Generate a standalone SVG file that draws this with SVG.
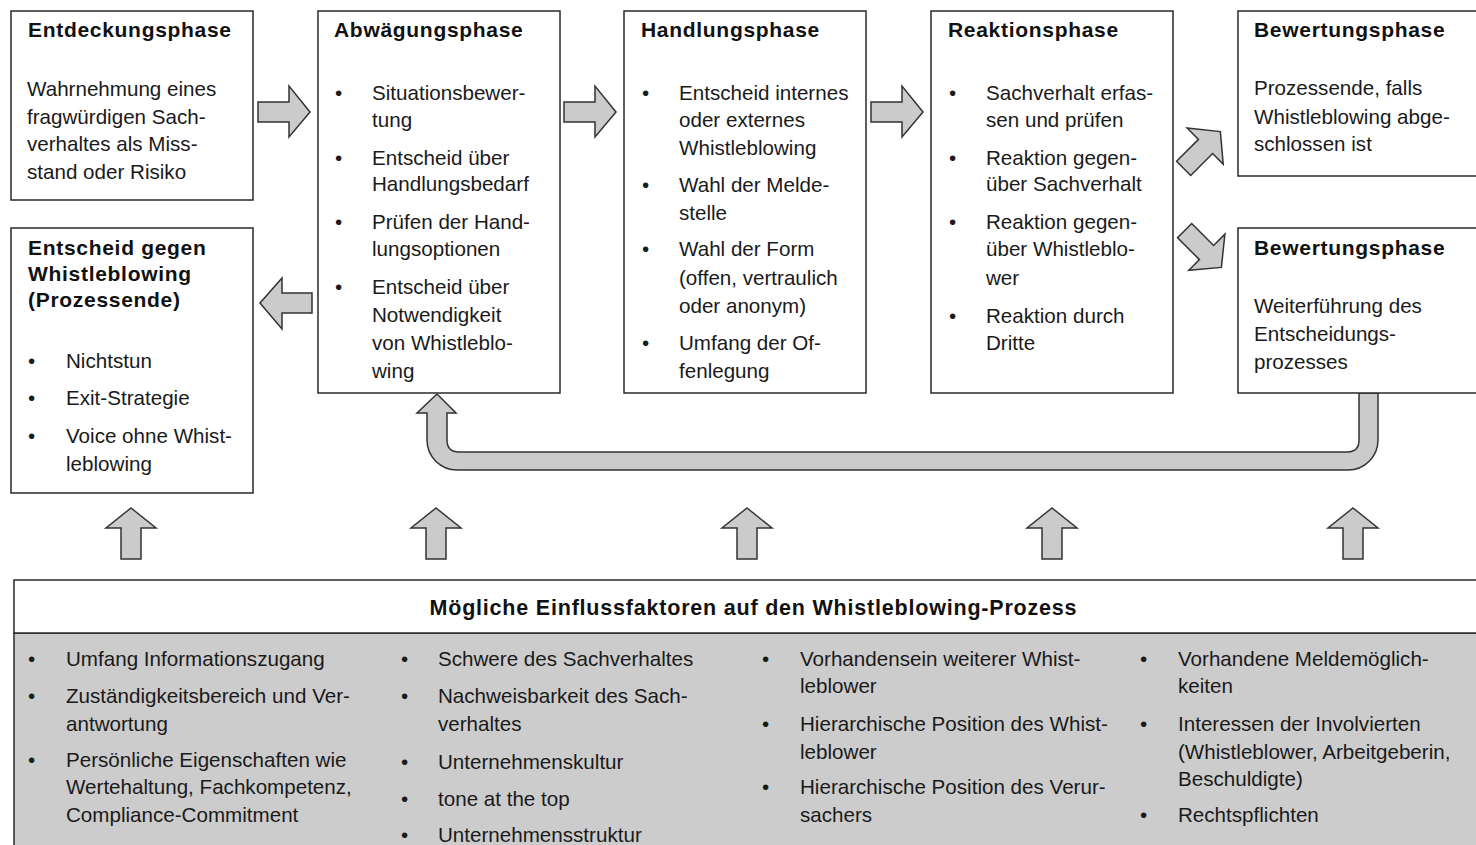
<svg xmlns="http://www.w3.org/2000/svg" xmlns:xlink="http://www.w3.org/1999/xlink" width="1476" height="845" viewBox="0 0 1476 845">
<style>
.box{fill:#fff;stroke:#2a2a2a;stroke-width:1.5}
.arr{fill:#cbcbcb;stroke:#333;stroke-width:1.5;stroke-linejoin:miter}
.h{font-family:"Liberation Sans",Arial,sans-serif;font-weight:bold;font-size:21px;letter-spacing:0.7px;fill:#111}
.t{font-family:"Liberation Sans",Arial,sans-serif;font-size:20.6px;fill:#1a1a1a}
.ttl{font-family:"Liberation Sans",Arial,sans-serif;font-weight:bold;font-size:21.5px;fill:#111}
</style>
<defs>
<path id="arrR" d="M0,-10 L31,-10 L31,-26 L52,0 L31,25 L31,10 L0,10 Z"/>
<path id="arrU" d="M0,0 L25,20 L10,20 L10,51 L-10,51 L-10,20 L-25,20 Z"/>
</defs>
<rect width="1476" height="845" fill="#fff"/>

<g id="connectors">
<use xlink:href="#arrR" class="arr" transform="translate(258,112)"/>
<use xlink:href="#arrR" class="arr" transform="translate(564,112)"/>
<use xlink:href="#arrR" class="arr" transform="translate(871,112)"/>
<path class="arr" d="M260,303 L282,278 L282,293 L312,293 L312,313 L282,313 L282,329 Z"/>
<use xlink:href="#arrR" class="arr" transform="translate(1202,150) rotate(-45) translate(-26,0)"/>
<use xlink:href="#arrR" class="arr" transform="translate(1203,249) rotate(45) translate(-26,0)"/>
<path class="arr" d="M437,394 L456,413 L447,413 L447,440 Q447,452 459,452 L1347,452 Q1359,452 1359,440 L1359,393 L1378,393 L1378,440 A30,30 0 0 1 1348,470 L457,470 A30,30 0 0 1 427,440 L427,413 L417,413 Z"/>
<use xlink:href="#arrU" class="arr" transform="translate(131,508)"/>
<use xlink:href="#arrU" class="arr" transform="translate(436,508)"/>
<use xlink:href="#arrU" class="arr" transform="translate(747,508)"/>
<use xlink:href="#arrU" class="arr" transform="translate(1052,508)"/>
<use xlink:href="#arrU" class="arr" transform="translate(1353,508)"/>
</g>

<g id="entdeckung">
<rect class="box" x="11" y="11" width="242" height="189"/>
<text class="h" x="28" y="37">Entdeckungsphase</text>
<text class="t" x="27" y="96">Wahrnehmung eines</text>
<text class="t" x="27" y="124">fragwürdigen Sach-</text>
<text class="t" x="27" y="151">verhaltes als Miss-</text>
<text class="t" x="27" y="179">stand oder Risiko</text>
</g>

<g id="abwaegung">
<rect class="box" x="318" y="11" width="242" height="382"/>
<text class="h" x="334" y="37">Abwägungsphase</text>
<g class="t">
<text x="335" y="100">•</text><text x="372" y="100">Situationsbewer-</text>
<text x="372" y="127">tung</text>
<text x="335" y="165">•</text><text x="372" y="165">Entscheid über</text>
<text x="372" y="191">Handlungsbedarf</text>
<text x="335" y="229">•</text><text x="372" y="229">Prüfen der Hand-</text>
<text x="372" y="256">lungsoptionen</text>
<text x="335" y="294">•</text><text x="372" y="294">Entscheid über</text>
<text x="372" y="322">Notwendigkeit</text>
<text x="372" y="350">von Whistleblo-</text>
<text x="372" y="378">wing</text>
</g>
</g>

<g id="handlung">
<rect class="box" x="624" y="11" width="242" height="382"/>
<text class="h" x="641" y="37">Handlungsphase</text>
<g class="t">
<text x="642" y="100">•</text><text x="679" y="100">Entscheid internes</text>
<text x="679" y="127">oder externes</text>
<text x="679" y="155">Whistleblowing</text>
<text x="642" y="192">•</text><text x="679" y="192">Wahl der Melde-</text>
<text x="679" y="220">stelle</text>
<text x="642" y="256">•</text><text x="679" y="256">Wahl der Form</text>
<text x="679" y="285">(offen, vertraulich</text>
<text x="679" y="313">oder anonym)</text>
<text x="642" y="350">•</text><text x="679" y="350">Umfang der Of-</text>
<text x="679" y="378">fenlegung</text>
</g>
</g>

<g id="reaktion">
<rect class="box" x="931" y="11" width="242" height="382"/>
<text class="h" x="948" y="37">Reaktionsphase</text>
<g class="t">
<text x="949" y="100">•</text><text x="986" y="100">Sachverhalt erfas-</text>
<text x="986" y="127">sen und prüfen</text>
<text x="949" y="165">•</text><text x="986" y="165">Reaktion gegen-</text>
<text x="986" y="191">über Sachverhalt</text>
<text x="949" y="229">•</text><text x="986" y="229">Reaktion gegen-</text>
<text x="986" y="256">über Whistleblo-</text>
<text x="986" y="285">wer</text>
<text x="949" y="323">•</text><text x="986" y="323">Reaktion durch</text>
<text x="986" y="350">Dritte</text>
</g>
</g>

<g id="bewertung1">
<rect class="box" x="1238" y="11" width="250" height="165"/>
<text class="h" x="1254" y="37">Bewertungsphase</text>
<text class="t" x="1254" y="95">Prozessende, falls</text>
<text class="t" x="1254" y="124">Whistleblowing abge-</text>
<text class="t" x="1254" y="151">schlossen ist</text>
</g>

<g id="bewertung2">
<rect class="box" x="1238" y="228" width="250" height="165"/>
<text class="h" x="1254" y="255">Bewertungsphase</text>
<text class="t" x="1254" y="313">Weiterführung des</text>
<text class="t" x="1254" y="341">Entscheidungs-</text>
<text class="t" x="1254" y="369">prozesses</text>
</g>

<g id="entscheid-gegen">
<rect class="box" x="11" y="228" width="242" height="265"/>
<text class="h" x="28" y="255">Entscheid gegen</text>
<text class="h" x="28" y="281">Whistleblowing</text>
<text class="h" x="28" y="307">(Prozessende)</text>
<g class="t">
<text x="28" y="368">•</text><text x="66" y="368">Nichtstun</text>
<text x="28" y="405">•</text><text x="66" y="405">Exit-Strategie</text>
<text x="28" y="443">•</text><text x="66" y="443">Voice ohne Whist-</text>
<text x="66" y="471">leblowing</text>
</g>
</g>

<g id="einflussfaktoren">
<rect x="14" y="633" width="1470" height="220" fill="#cccccc" stroke="#2a2a2a" stroke-width="1.5"/>
<rect class="box" x="14" y="580" width="1470" height="53"/>
<text class="ttl" x="753" y="615" text-anchor="middle" textLength="647" lengthAdjust="spacing">Mögliche Einflussfaktoren auf den Whistleblowing-Prozess</text>
<g class="t">
<text x="28" y="666">•</text><text x="66" y="666">Umfang Informationszugang</text>
<text x="28" y="703">•</text><text x="66" y="703">Zuständigkeitsbereich und Ver-</text>
<text x="66" y="731">antwortung</text>
<text x="28" y="767">•</text><text x="66" y="767">Persönliche Eigenschaften wie</text>
<text x="66" y="794">Wertehaltung, Fachkompetenz,</text>
<text x="66" y="822">Compliance-Commitment</text>

<text x="401" y="666">•</text><text x="438" y="666">Schwere des Sachverhaltes</text>
<text x="401" y="703">•</text><text x="438" y="703">Nachweisbarkeit des Sach-</text>
<text x="438" y="731">verhaltes</text>
<text x="401" y="769">•</text><text x="438" y="769">Unternehmenskultur</text>
<text x="401" y="806">•</text><text x="438" y="806">tone at the top</text>
<text x="401" y="842">•</text><text x="438" y="842">Unternehmensstruktur</text>

<text x="762" y="666">•</text><text x="800" y="666">Vorhandensein weiterer Whist-</text>
<text x="800" y="693">leblower</text>
<text x="762" y="731">•</text><text x="800" y="731">Hierarchische Position des Whist-</text>
<text x="800" y="759">leblower</text>
<text x="762" y="794">•</text><text x="800" y="794">Hierarchische Position des Verur-</text>
<text x="800" y="822">sachers</text>

<text x="1140" y="666">•</text><text x="1178" y="666">Vorhandene Meldemöglich-</text>
<text x="1178" y="693">keiten</text>
<text x="1140" y="731">•</text><text x="1178" y="731">Interessen der Involvierten</text>
<text x="1178" y="759">(Whistleblower, Arbeitgeberin,</text>
<text x="1178" y="786">Beschuldigte)</text>
<text x="1140" y="822">•</text><text x="1178" y="822">Rechtspflichten</text>
</g>
</g>
</svg>
